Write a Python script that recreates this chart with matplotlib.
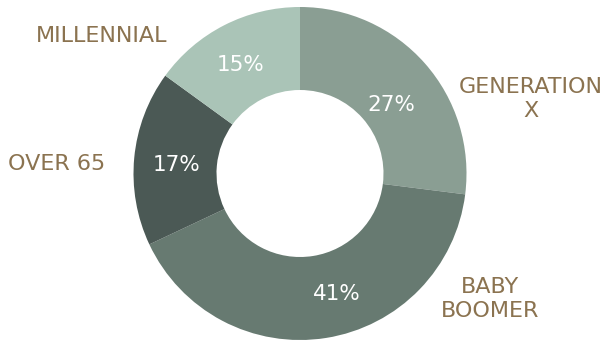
import matplotlib.pyplot as plt

groups = ["GENERATION\nX", "BABY\nBOOMER", "OVER 65", "MILLENNIAL"]
shares = [27, 41, 17, 15]
colors = ["#8a9e93", "#677a71", "#4b5955", "#aac4b7"]

# where the group names and percentages sit (pixel coords, y from bottom)
label_pos = [(531, 241), (490, 41), (57, 176), (102, 304)]
pct_pos = [(391, 235), (337, 46), (177, 175), (241, 275)]

fig = plt.figure(figsize=(6.04, 3.4), dpi=100)
ax = fig.add_axes([0, 0, 1, 1])

wedges, texts, autotexts = ax.pie(
    shares, colors=colors, startangle=90, counterclock=False,
    center=(300, 166.5), radius=166.5, frame=True,
    wedgeprops=dict(width=83, linewidth=0),
    autopct="%d%%",
    textprops=dict(color="white", fontsize=15.5),
)
for t, p in zip(autotexts, pct_pos):
    t.set_position(p)

ax.set_xlim(0, 604)
ax.set_ylim(0, 340)
ax.set_aspect("equal")
ax.axis("off")

for name, (x, y) in zip(groups, label_pos):
    ax.text(x, y, name, ha="center", va="center", color="#8b7350",
            fontsize=16, linespacing=1.2)

fig.savefig("out.png", dpi=100)
